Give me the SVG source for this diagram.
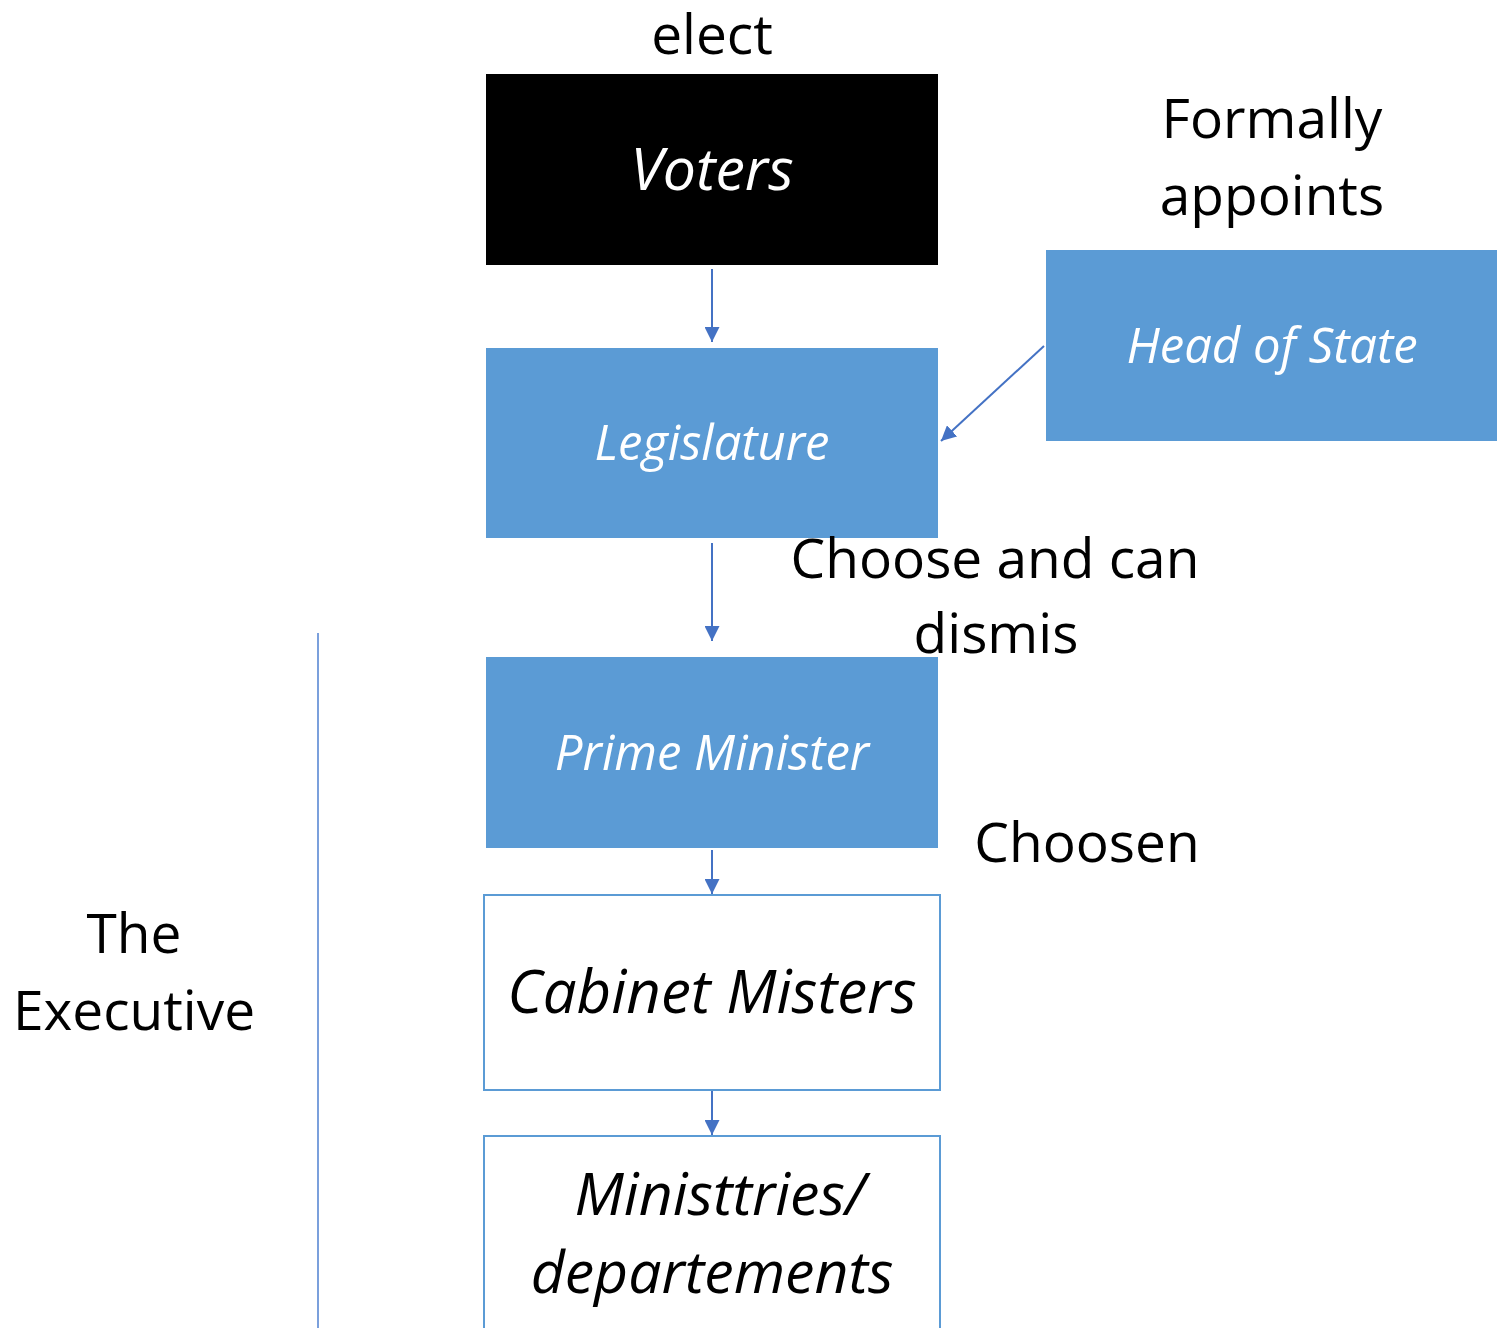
<svg xmlns="http://www.w3.org/2000/svg" width="1497" height="1328" viewBox="0 0 1497 1328">
<style>
.lbl{font-family:"Open Sans","Liberation Sans",sans-serif;font-size:55px;fill:#000;text-anchor:middle}
.nt{font-family:"Open Sans","Liberation Sans",sans-serif;font-style:italic;text-anchor:middle}
.w{fill:#fff;font-size:49px}
.b{fill:#000;font-size:59px}
.blue{fill:#5b9bd5}
.outline{fill:#fff;stroke:#5b9bd5;stroke-width:2}
.conn{stroke:#4472c4;stroke-width:2;fill:none;marker-end:url(#ah)}
</style>
<defs>
<marker id="ah" viewBox="0 0 10 10" refX="10" refY="5" markerWidth="15" markerHeight="15" markerUnits="userSpaceOnUse" orient="auto">
<path d="M0,0 L10,5 L0,10 z" fill="#4472c4"/>
</marker>
</defs>
<rect width="1497" height="1328" fill="#fff"/>
<g id="connectors">
<line class="conn" x1="712" y1="269" x2="712" y2="342"/>
<line class="conn" x1="712" y1="543" x2="712" y2="641"/>
<line class="conn" x1="712" y1="850" x2="712" y2="894"/>
<line class="conn" x1="712" y1="1091" x2="712" y2="1135"/>
<line class="conn" x1="1044" y1="346" x2="941" y2="441"/>
</g>
<line id="divider" x1="318" y1="633" x2="318" y2="1328" stroke="#7ba0dc" stroke-width="2"/>
<g id="voters">
<rect x="486" y="74" width="452" height="191" fill="#000"/>
<text class="nt w" x="712" y="190" style="font-size:59px">Voters</text>
</g>
<g id="legislature">
<rect class="blue" x="486" y="348" width="452" height="190"/>
<text class="nt w" x="712" y="460">Legislature</text>
</g>
<g id="head-of-state">
<rect class="blue" x="1046" y="250" width="451" height="191"/>
<text class="nt w" x="1272" y="363">Head of State</text>
</g>
<g id="prime-minister">
<rect class="blue" x="486" y="657" width="452" height="191"/>
<text class="nt w" x="712" y="770">Prime Minister</text>
</g>
<g id="cabinet">
<rect class="outline" x="484" y="895" width="456" height="195"/>
<text class="nt b" x="712" y="1013" style="font-size:60px">Cabinet Misters</text>
</g>
<g id="ministries">
<rect class="outline" x="484" y="1136" width="456" height="200"/>
<text class="nt b" x="720" y="1215">Ministtries/</text>
<text class="nt b" x="712" y="1293">departements</text>
</g>
<g id="labels">
<text class="lbl" x="712" y="54">elect</text>
<text class="lbl" x="1272" y="138">Formally</text>
<text class="lbl" x="1272" y="215">appoints</text>
<text class="lbl" x="995" y="578">Choose and can</text>
<text class="lbl" x="996" y="653">dismis</text>
<text class="lbl" x="1087" y="862">Choosen</text>
<text class="lbl" x="134" y="953">The</text>
<text class="lbl" x="134" y="1030">Executive</text>
</g>
</svg>
